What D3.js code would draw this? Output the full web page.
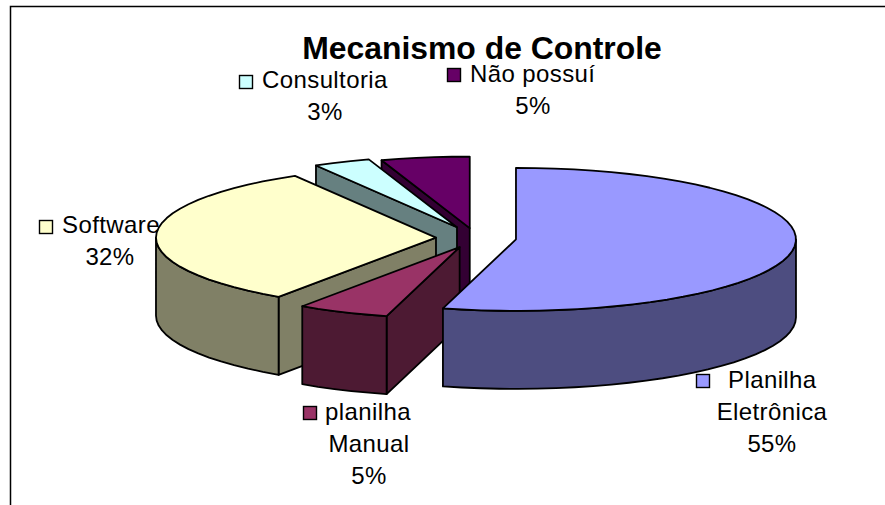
<!DOCTYPE html>
<html><head><meta charset="utf-8">
<script src="https://cdn.jsdelivr.net/npm/d3@7"></script>
<style>html,body{margin:0;padding:0;background:#fff}svg{display:block}text{font-family:"Liberation Sans",Arial,sans-serif;fill:#000}</style>
</head><body><script>
const categories = ["Planilha Eletrônica","planilha Manual","Software","Consultoria","Não possuí"];
const values = [54.2,5.3,32.1,3.3,5.1];
const percentLabels = ["55%","5%","32%","3%","5%"];
const topColors = ["#9999FF","#993366","#FFFFCC","#CCFFFF","#660066"];
const wallColors = ["#4D4D80","#4D1A33","#808066","#668080","#330033"];
const explode = [0.144,0.14,0.143,0.165,0.14];
const drawOrder = [4,3,2,1,0];
const labelLines = [["Planilha","Eletrônica"],["planilha","Manual"],["Software"],["Consultoria"],["Não possuí"]];
const labelLayout = [
 {swatch:[696,374],first:[728,388],center:772},
 {swatch:[303,406],first:[325,420],center:369},
 {swatch:[39,220],first:[62,233],center:110},
 {swatch:[239,75],first:[262,88],center:325},
 {swatch:[447,68],first:[470,82],center:533}];
const W=885,H=505,cx=476,cy=238,rx=280,ry=71.5,depth=78,lineH=32;
const svg=d3.select("body").append("svg").attr("width",W).attr("height",H);
svg.append("path").attr("d",`M10.5 505V6.5H885`).attr("fill","none").attr("stroke","#000").attr("stroke-width",1.5);
svg.append("text").attr("x",482).attr("y",59).attr("text-anchor","middle").attr("font-size",31.9).attr("font-weight","bold").text("Mecanismo de Controle");

const arcs=d3.pie().sort(null)(values);
const px=d3.scaleLinear().domain([-1,1]).range([-rx,rx]);
const py=d3.scaleLinear().domain([-1,1]).range([-ry,ry]);
const line=d3.line().x(d=>d[0]).y(d=>d[1]);
const STEP=Math.PI/45;
function samples(a,b){const n=Math.max(1,Math.ceil((b-a)/STEP));return d3.range(n+1).map(i=>a+(b-a)*i/n);}
const g=svg.append("g").attr("stroke","#000").attr("stroke-width",1.8).attr("stroke-linejoin","round");
drawOrder.forEach(i=>{
  const a=arcs[i],mid=(a.startAngle+a.endAngle)/2;
  const ax=cx+px(Math.sin(mid)*explode[i]),ay=cy+py(-Math.cos(mid)*explode[i]);
  const pt=t=>[ax+px(Math.sin(t)),ay+py(-Math.cos(t))];
  const down=p=>[p[0],p[1]+depth];
  const apex=[ax,ay];
  if(a.startAngle>Math.PI){
    const e=pt(a.startAngle);
    g.append("path").attr("d",line([apex,e,down(e),down(apex)])+"Z").attr("fill",wallColors[i]);
  }
  const w0=Math.max(a.startAngle,Math.PI/2),w1=Math.min(a.endAngle,3*Math.PI/2);
  if(w1>w0){
    const rim=samples(w0,w1).map(pt);
    g.append("path").attr("d",line(rim.concat(rim.slice().reverse().map(down)))+"Z").attr("fill",wallColors[i]);
  }
  g.append("path").attr("d",line([apex].concat(samples(a.startAngle,a.endAngle).map(pt)))+"Z").attr("fill",topColors[i]);
});
categories.forEach((c,i)=>{
  const L=labelLayout[i],lines=labelLines[i];
  svg.append("rect").attr("x",L.swatch[0]+.5).attr("y",L.swatch[1]+.5).attr("width",13).attr("height",13).attr("fill",topColors[i]).attr("stroke","#000").attr("stroke-width",1.4);
  const fs=24,ls=0.4;
  svg.append("text").attr("x",L.first[0]).attr("y",L.first[1]).attr("font-size",fs).attr("letter-spacing",ls).text(lines[0]);
  lines.slice(1).concat(percentLabels[i]).forEach((t,k)=>{
    svg.append("text").attr("x",L.center).attr("y",L.first[1]+lineH*(k+1)).attr("text-anchor","middle").attr("font-size",fs).attr("letter-spacing",ls).text(t);
  });
});
</script></body></html>
